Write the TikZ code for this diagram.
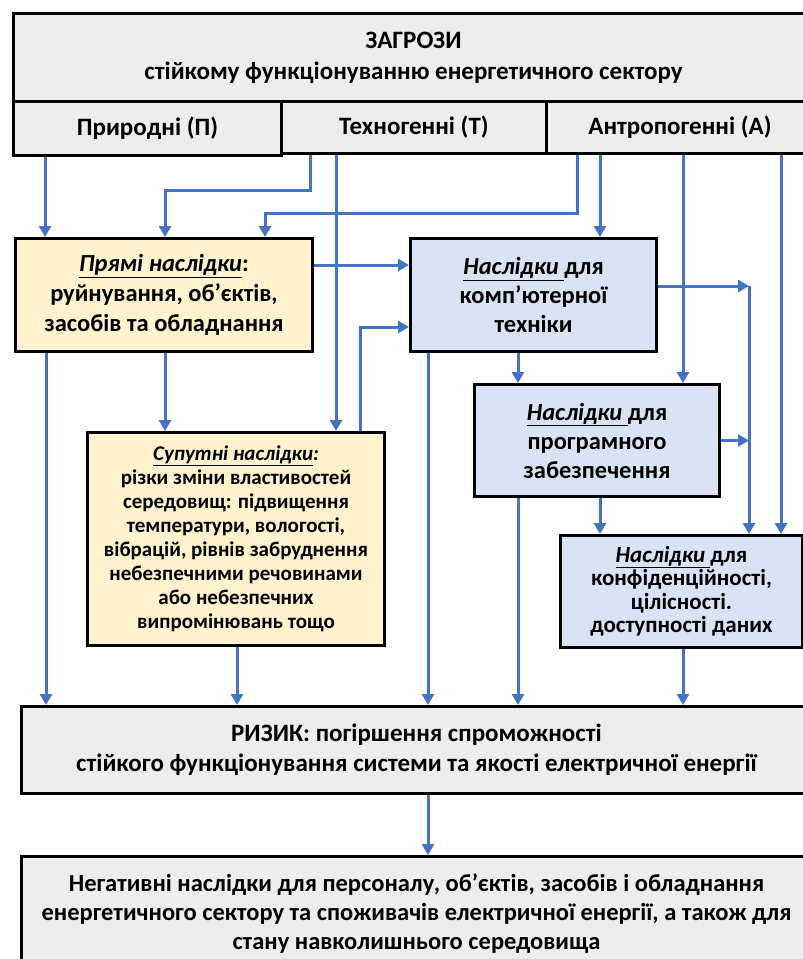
\documentclass[tikz,border=0pt]{standalone}
\usepackage{fontspec}
\setmainfont{Carlito}
\usepackage{tikz}
\usetikzlibrary{
  arrows.meta,%
  positioning
}
\definecolor{thrgrey}{HTML}{EDEDED}
\definecolor{consyellow}{HTML}{FFF2CC}
\definecolor{consblue}{HTML}{DAE3F3}
\definecolor{linkblue}{HTML}{4472C4}
\tikzset{>={Triangle[length=11pt,width=12pt]}}
\tikzset{
  box/.style={draw=black, line width=3pt, align=center, inner sep=0pt,
    anchor=north west, font=\bfseries\fontsize{25}{30}\selectfont},
  greybox/.style={box, fill=thrgrey},
  ylwbox/.style={box, fill=consyellow},
  bluebox/.style={box, fill=consblue},
  link/.style={->, draw=linkblue, line width=3pt},
}

\begin{document}
\begin{tikzpicture}[x=1pt, y=-1pt]
  \useasboundingbox (0,0) rectangle (803,959);
  \clip (0,0) rectangle (803,959);
  % threats
  \node[greybox, minimum width=800pt, minimum height=88pt, font=\bfseries\fontsize{25}{31}\selectfont] (zagrozy) at (12,12)
    {ЗАГРОЗИ\\стійкому функціонуванню енергетичного сектору};
  \node[greybox, minimum width=268pt, minimum height=54pt] (pryrodni) at (12,100) {Природні (П)};
  \node[greybox, minimum width=265pt, minimum height=52pt] (tekhno) at (280,100) {Техногенні (Т)};
  \node[greybox, minimum width=267pt, minimum height=52pt] (antropo) at (545,100) {Антропогенні (А)};
  % consequences
  \node[ylwbox, minimum width=297pt, minimum height=113pt, font=\bfseries\fontsize{24.5}{30}\selectfont] (pryami) at (14,237)
    {\underline{\textit{Прямі наслідки}}:\\руйнування, об’єктів,\\засобів та обладнання};
  \node[bluebox, minimum width=246pt, minimum height=113pt, font=\bfseries\fontsize{24.5}{29}\selectfont] (komp) at (409,237)
    {\underline{\textit{Наслідки }}для\\комп’ютерної\\техніки};
  \node[ylwbox, minimum width=297pt, minimum height=213pt, font=\bfseries\fontsize{21}{24}\selectfont] (suputni) at (86,431)
    {\underline{\textit{Супутні наслідки}}\textit{:}\\різки зміни властивостей\\середовищ: підвищення\\температури, вологості,\\вібрацій, рівнів забруднення\\небезпечними речовинами\\або небезпечних\\випромінювань тощо};
  \node[bluebox, minimum width=245pt, minimum height=112pt, font=\bfseries\fontsize{24.5}{29}\selectfont] (prog) at (473,383)
    {\underline{\textit{Наслідки }}для\\програмного\\забезпечення};
  \node[bluebox, minimum width=242pt, minimum height=112pt, font=\bfseries\fontsize{23}{23.5}\selectfont] (konf) at (559,534)
    {\underline{\textit{Наслідки }}для\\конфіденційності,\\цілісності.\\доступності даних};
  % risk
  \node[greybox, minimum width=790pt, minimum height=87pt] (ryzyk) at (20,705)
    {РИЗИК: погіршення спроможності\\стійкого функціонування системи та якості електричної енергії};
  \node[greybox, minimum width=790pt, minimum height=114pt, font=\bfseries\fontsize{24.5}{29}\selectfont] (negat) at (20,855)
    {Негативні наслідки для персоналу, об’єктів, засобів і обладнання\\енергетичного сектору та споживачів електричної енергії, а також для\\стану навколишнього середовища};
  \coordinate (bus) at (749,286);
  % links from threats
  \draw[link] (pryrodni.south -| 45,0) -- (pryami.north -| 45,0);
  \draw[link] (tekhno.south -| 310,0) -- (310,190) -| (pryami.north -| 165,0);
  \draw[link] (tekhno.south -| 336,0) -- (suputni.north -| 336,0);
  \draw[link] (antropo.south -| 577,0) -- (577,213) -| (pryami.north -| 265,0);
  \draw[link] (antropo.south -| 600,0) -- (komp.north -| 600,0);
  \draw[link] (antropo.south -| 683,0) -- (prog.north -| 683,0);
  \draw[link] (antropo.south -| 781,0) -- (konf.north -| 781,0);
  % links between consequences
  \draw[link] (pryami.east |- 0,265) -- (komp.west |- 0,265);
  \draw[link] (pryami.south -| 165,0) -- (suputni.north -| 165,0);
  \draw[link] (suputni.north -| 360,0) -- (360,327) -- (komp.west |- 0,327);
  \draw[link] (komp.east |- bus) -- (bus);
  \draw[link] (bus) -- (konf.north -| bus);
  \draw[link] (prog.east) -- (prog.east -| bus);
  \draw[link] (komp.south -| 518,0) -- (prog.north -| 518,0);
  \draw[link] (prog.south -| 600,0) -- (konf.north -| 600,0);
  % links to risk
  \draw[link] (pryami.south -| 46,0) -- (ryzyk.north -| 46,0);
  \draw[link] (suputni.south -| 237,0) -- (ryzyk.north -| 237,0);
  \draw[link] (komp.south -| 428,0) -- (ryzyk.north -| 428,0);
  \draw[link] (prog.south -| 518,0) -- (ryzyk.north -| 518,0);
  \draw[link] (konf.south -| 683,0) -- (ryzyk.north -| 683,0);
  \draw[link] (ryzyk.south -| 428,0) -- (negat.north -| 428,0);
\end{tikzpicture}
\end{document}
